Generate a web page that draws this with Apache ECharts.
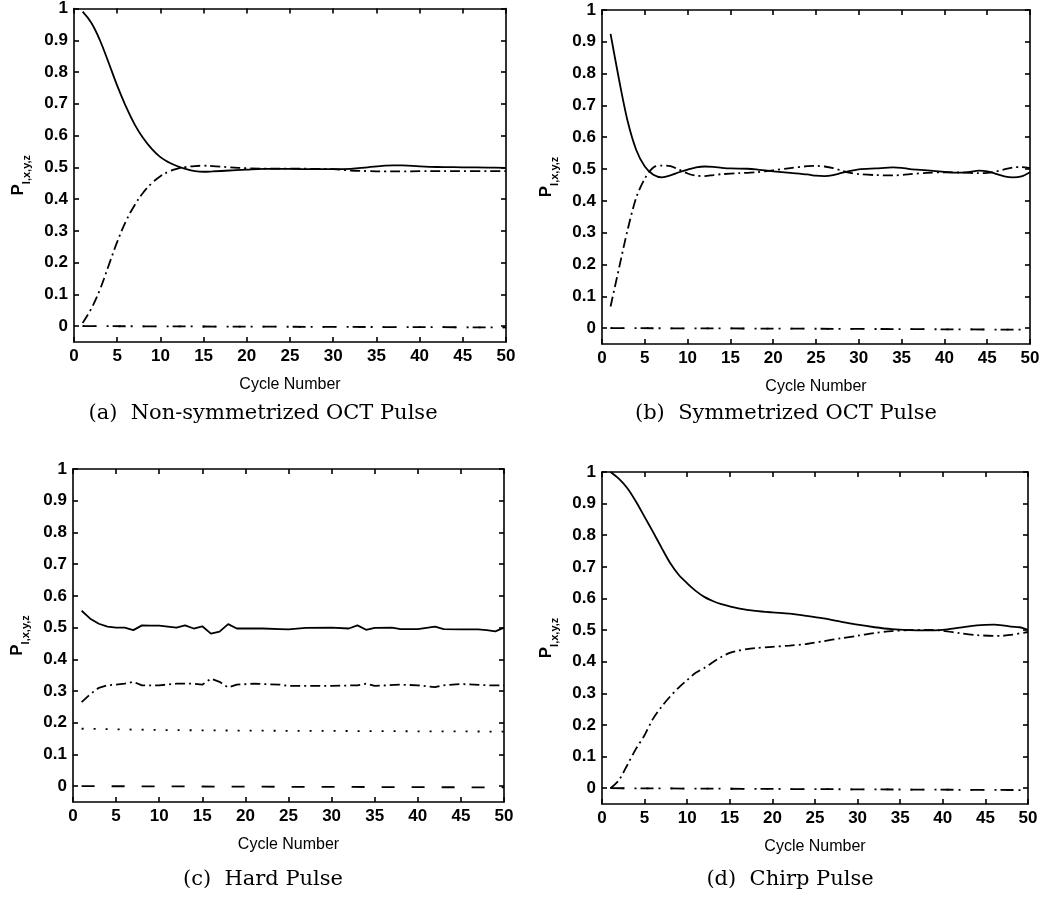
<!DOCTYPE html>
<html>
<head>
<meta charset="utf-8">
<script src="https://cdn.jsdelivr.net/npm/echarts@6/dist/echarts.min.js"></script>
<style>
html,body{margin:0;padding:0;background:#fff;}
#chart{width:1048px;height:903px;}
</style>
</head>
<body>
<div id="chart"></div>
<script>
// ---------- tick labels ----------
const xTicks = [0, 5, 10, 15, 20, 25, 30, 35, 40, 45, 50];
const yTicks = [0, 0.1, 0.2, 0.3, 0.4, 0.5, 0.6, 0.7, 0.8, 0.9, 1];
const captions = ['(a)  Non-symmetrized OCT Pulse', '(b)  Symmetrized OCT Pulse', '(c)  Hard Pulse', '(d)  Chirp Pulse'];
const xName = 'Cycle Number';

// ---------- (a) Non-symmetrized OCT Pulse ----------
const aI = [[1,0.99],[2,0.955],[3,0.9],[4,0.83],[5,0.757],[6,0.692],[7,0.636],[8,0.592],[9,0.558],[10,0.532],[11,0.515],[12,0.503],[13,0.494],[14,0.488],[15,0.486],[16,0.487],[18,0.49],[20,0.493],[22,0.495],[25,0.495],[28,0.494],[30,0.494],[32,0.495],[34,0.5],[36,0.505],[37,0.506],[38,0.506],[40,0.503],[42,0.501],[45,0.5],[48,0.499],[50,0.498]];
const aX = [[1,0.01],[2,0.055],[3,0.115],[4,0.19],[5,0.265],[6,0.33],[7,0.38],[8,0.42],[9,0.45],[10,0.472],[11,0.487],[12,0.496],[13,0.501],[14,0.504],[15,0.505],[16,0.504],[18,0.5],[20,0.497],[22,0.496],[25,0.496],[28,0.495],[30,0.494],[32,0.49],[34,0.488],[36,0.487],[38,0.487],[40,0.488],[45,0.488],[50,0.488]];
const aY = [[1,0.0],[25,-0.002],[50,-0.004]];
const aZ = [[1,0.0],[25,-0.002],[50,-0.004]];

// ---------- (b) Symmetrized OCT Pulse ----------
const bI = [[1,0.925],[2,0.78],[3,0.65],[4,0.56],[5,0.508],[6,0.482],[7,0.474],[8,0.48],[9,0.49],[10,0.498],[11,0.505],[12,0.508],[13,0.507],[14,0.504],[15,0.502],[17,0.501],[18,0.499],[20,0.493],[22,0.488],[24,0.483],[25,0.479],[26,0.478],[27,0.481],[28,0.488],[29,0.494],[30,0.499],[32,0.502],[34,0.505],[35,0.504],[36,0.5],[38,0.496],[40,0.491],[41,0.489],[42,0.489],[43,0.491],[44,0.495],[45,0.493],[46,0.485],[47,0.477],[48,0.474],[49,0.477],[50,0.49]];
const bX = [[1,0.068],[2,0.19],[3,0.31],[4,0.41],[5,0.47],[6,0.505],[7,0.511],[8,0.509],[9,0.498],[10,0.486],[11,0.479],[12,0.478],[13,0.481],[14,0.484],[16,0.487],[18,0.49],[20,0.496],[22,0.503],[24,0.509],[25,0.51],[26,0.508],[27,0.503],[28,0.495],[29,0.488],[30,0.484],[32,0.481],[34,0.48],[36,0.484],[38,0.488],[40,0.49],[42,0.489],[44,0.487],[45,0.488],[46,0.492],[47,0.499],[48,0.505],[49,0.506],[50,0.503]];
const bY = [[1,0.0],[25,-0.002],[50,-0.005]];
const bZ = [[1,0.0],[25,-0.002],[50,-0.005]];

// ---------- (c) Hard Pulse ----------
const cI = [[1,0.553],[2,0.528],[3,0.512],[4,0.503],[5,0.5],[6,0.5],[7,0.492],[8,0.507],[9,0.506],[10,0.506],[11,0.503],[12,0.5],[13,0.507],[14,0.497],[15,0.504],[16,0.481],[17,0.487],[18,0.511],[19,0.497],[20,0.497],[22,0.497],[24,0.495],[25,0.494],[27,0.499],[30,0.5],[32,0.497],[33,0.507],[34,0.493],[35,0.499],[37,0.5],[38,0.495],[40,0.495],[42,0.503],[43,0.495],[45,0.494],[47,0.494],[48,0.492],[49,0.488],[50,0.5]];
const cX = [[1,0.265],[2,0.29],[3,0.31],[4,0.318],[5,0.32],[6,0.323],[7,0.329],[8,0.318],[9,0.318],[10,0.318],[12,0.323],[14,0.323],[15,0.32],[16,0.339],[17,0.329],[18,0.311],[19,0.32],[21,0.323],[24,0.32],[25,0.316],[30,0.316],[33,0.318],[34,0.323],[35,0.316],[38,0.32],[40,0.318],[42,0.312],[43,0.318],[45,0.322],[48,0.318],[50,0.318]];
const cY = [[1,0.181],[10,0.177],[20,0.175],[30,0.174],[40,0.173],[50,0.172]];
const cZ = [[1,0.0],[25,-0.002],[50,-0.004]];

// ---------- (d) Chirp Pulse ----------
const dI = [[1,1.0],[2,0.978],[3,0.948],[4,0.906],[5,0.858],[6,0.81],[7,0.76],[8,0.712],[9,0.675],[10,0.648],[11,0.624],[12,0.605],[13,0.592],[14,0.582],[15,0.575],[16,0.569],[18,0.561],[20,0.556],[22,0.552],[24,0.545],[26,0.537],[28,0.527],[30,0.517],[32,0.509],[34,0.503],[36,0.5],[38,0.499],[40,0.501],[42,0.508],[44,0.515],[46,0.517],[47,0.515],[48,0.511],[49,0.509],[50,0.501]];
const dX = [[1,0.0],[2,0.026],[3,0.075],[4,0.125],[5,0.168],[6,0.22],[7,0.258],[8,0.29],[9,0.318],[10,0.342],[11,0.365],[12,0.38],[13,0.398],[14,0.415],[15,0.428],[16,0.435],[17,0.44],[18,0.443],[20,0.447],[22,0.451],[24,0.456],[26,0.465],[28,0.474],[30,0.482],[32,0.491],[34,0.497],[36,0.5],[38,0.501],[40,0.498],[42,0.49],[44,0.484],[46,0.482],[47,0.482],[48,0.485],[50,0.494]];
const dY = [[1,0.0],[25,-0.003],[50,-0.006]];
const dZ = [[1,0.0],[25,-0.003],[50,-0.006]];

const panels = [
  {I: aI, X: aX, Y: aY, Z: aZ, smooth: 0.4},
  {I: bI, X: bX, Y: bY, Z: bZ, smooth: 0.3},
  {I: cI, X: cX, Y: cY, Z: cZ, smooth: false},
  {I: dI, X: dX, Y: dY, Z: dZ, smooth: 0.3}
];

// ---------- layout ----------
const grids = [
  {left: 74, top: 8, width: 432, height: 334},
  {left: 602, top: 10, width: 428, height: 334},
  {left: 73, top: 469, width: 431, height: 333},
  {left: 602, top: 472, width: 426, height: 332}
];
const captionPos = [[263, 414], [786, 414], [263, 880], [790, 880]];

const black = '#000';
const labelFont = {fontFamily: 'Liberation Sans', fontWeight: 'bold', fontSize: 17, color: black};

const option = {
  animation: false,
  backgroundColor: '#fff',
  grid: grids.map(g => Object.assign({containLabel: false, show: false}, g)),
  xAxis: [], yAxis: [], series: [],
  graphic: captions.map((t, i) => ({
    type: 'text', x: captionPos[i][0], y: captionPos[i][1],
    style: {text: t, textAlign: 'center', textVerticalAlign: 'middle',
      font: '21px "DejaVu Serif"', fill: black}
  }))
};

grids.forEach((g, i) => {
  const lineStyle = {color: black, width: 1.6};
  option.xAxis.push({
    type: 'value', gridIndex: i, min: 0, max: 50, interval: 5, position: 'bottom',
    axisLine: {show: true, onZero: false, lineStyle},
    axisTick: {show: true, inside: true, length: 5, lineStyle},
    axisLabel: Object.assign({margin: 6, customValues: xTicks}, labelFont),
    splitLine: {show: false},
    name: xName, nameLocation: 'middle', nameGap: 35,
    nameTextStyle: {fontFamily: 'Liberation Sans', fontSize: 16, color: black}
  });
  option.xAxis.push({
    type: 'value', gridIndex: i, min: 0, max: 50, interval: 5, position: 'top',
    axisLine: {show: true, onZero: false, lineStyle},
    axisTick: {show: true, inside: true, length: 5, lineStyle},
    axisLabel: {show: false}, splitLine: {show: false}
  });
  option.yAxis.push({
    type: 'value', gridIndex: i, min: -0.05, max: 1, position: 'left',
    axisLine: {show: true, onZero: false, lineStyle},
    axisTick: {show: true, inside: true, length: 5, lineStyle, customValues: yTicks},
    axisLabel: Object.assign({margin: 6, customValues: yTicks}, labelFont),
    splitLine: {show: false},
    name: '{p|P}{s|I,x,y,z}', nameLocation: 'middle', nameGap: 42, nameRotate: 90,
    nameTextStyle: {
      color: black,
      rich: {
        p: {fontFamily: 'Liberation Sans', fontWeight: 'bold', fontSize: 17, lineHeight: 22, verticalAlign: 'top', color: black},
        s: {fontFamily: 'Liberation Sans', fontWeight: 'bold', fontSize: 11, lineHeight: 11, verticalAlign: 'bottom', color: black}
      }
    }
  });
  option.yAxis.push({
    type: 'value', gridIndex: i, min: -0.05, max: 1, position: 'right',
    axisLine: {show: true, onZero: false, lineStyle},
    axisTick: {show: true, inside: true, length: 5, lineStyle, customValues: yTicks},
    axisLabel: {show: false}, splitLine: {show: false}
  });
  const p = panels[i];
  const mk = (data, type, smooth) => ({
    type: 'line', xAxisIndex: 2 * i, yAxisIndex: 2 * i, data, smooth,
    symbol: 'none', silent: true,
    lineStyle: {color: black, width: 1.8, type}
  });
  option.series.push(mk(p.Z, [13, 17], false));
  option.series.push(mk(p.Y, [2, 10], false));
  option.series.push(mk(p.X, [10, 4, 2, 4], p.smooth));
  option.series.push(mk(p.I, 'solid', p.smooth));
});

const chart = echarts.init(document.getElementById('chart'), null, {renderer: 'canvas'});
chart.setOption(option);
</script>
</body>
</html>
